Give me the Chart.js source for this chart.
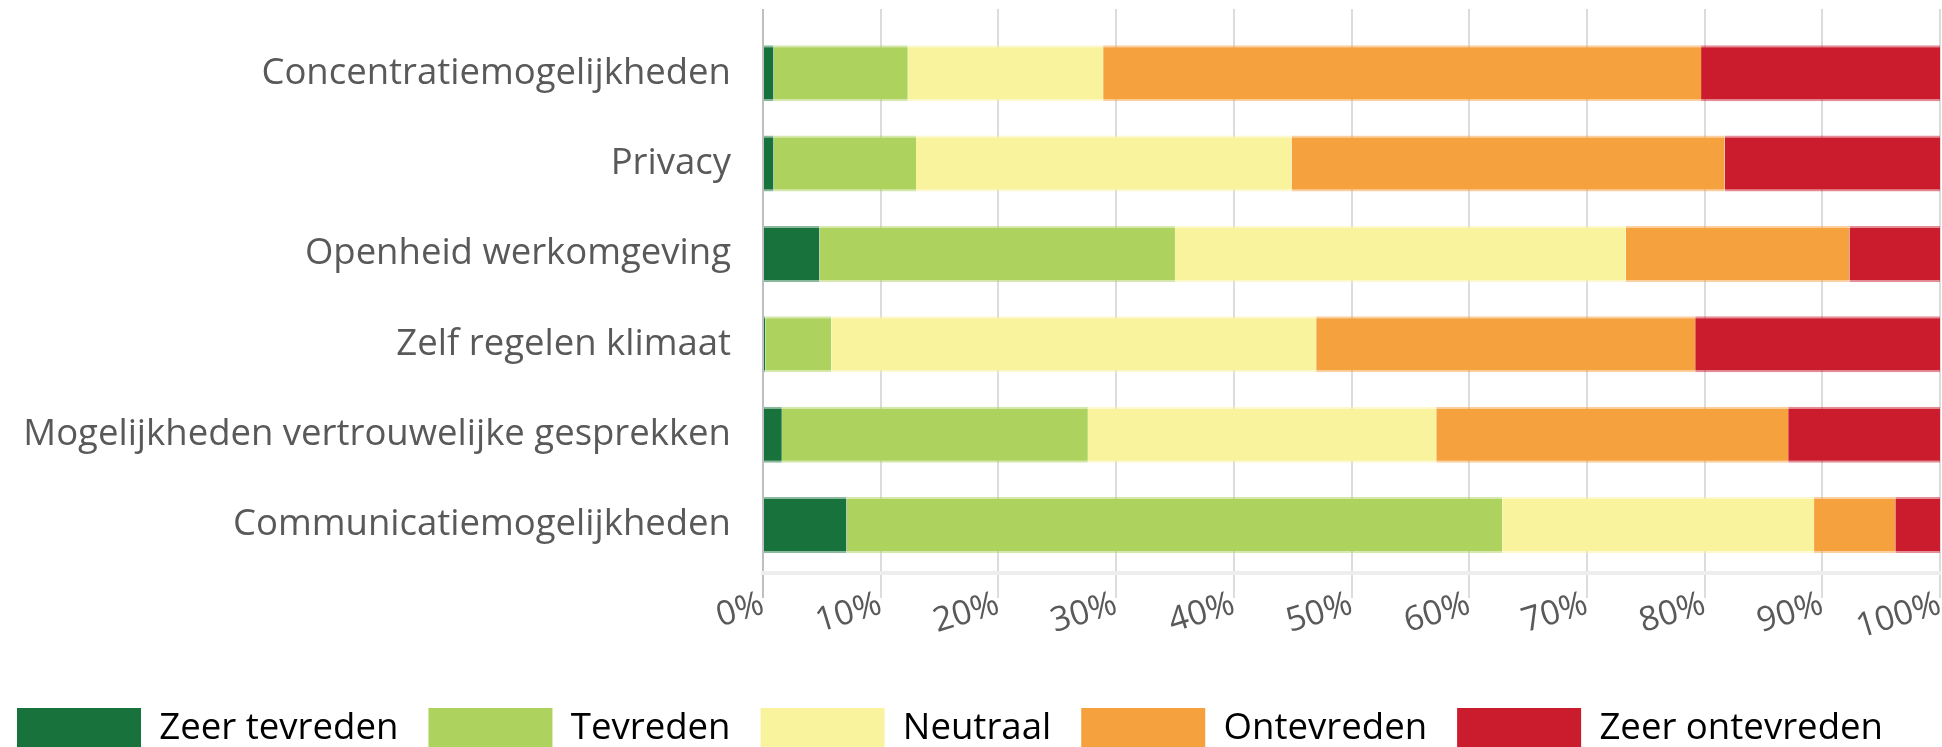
<!DOCTYPE html>
<html>
<head>
<meta charset="utf-8">
<script src="https://cdn.jsdelivr.net/npm/chart.js@4/dist/chart.umd.min.js"></script>
<style>
  html, body { margin: 0; padding: 0; background: #ffffff; overflow: hidden; }
  #wrap { width: 1942px; height: 760px; position: relative; }
</style>
</head>
<body>
<div id="wrap"><canvas id="c" width="1942" height="760"></canvas></div>
<script>
const categories = [
  'Concentratiemogelijkheden',
  'Privacy',
  'Openheid werkomgeving',
  'Zelf regelen klimaat',
  'Mogelijkheden vertrouwelijke gesprekken',
  'Communicatiemogelijkheden'
];
const seriesNames = ['Zeer tevreden', 'Tevreden', 'Neutraal', 'Ontevreden', 'Zeer ontevreden'];
const zeerTevreden   = [0.9, 0.9, 4.8, 0.2, 1.6, 7.1];
const tevreden       = [11.4, 12.1, 30.2, 5.6, 26.0, 55.7];
const neutraal       = [16.6, 31.9, 38.3, 41.2, 29.6, 26.5];
const ontevreden     = [50.8, 36.8, 19.0, 32.2, 29.9, 6.9];
const zeerOntevreden = [20.3, 18.3, 7.7, 20.8, 12.9, 3.8];
const xTickLabels = ['0%', '10%', '20%', '30%', '40%', '50%', '60%', '70%', '80%', '90%', '100%'];

const colors = ['#17733b', '#aed25e', '#faf39e', '#f5a13e', '#cb1c2d'];
const edgeColors = ['rgba(23,115,59,0.5)', 'rgba(174,210,94,0.5)', 'rgba(250,243,158,0.5)', 'rgba(245,161,62,0.5)', 'rgba(203,28,45,0.5)'];
const allSeries = [zeerTevreden, tevreden, neutraal, ontevreden, zeerOntevreden];

const FONT = '"Open Sans", "Noto Sans", sans-serif';
const TEXT = '#595959';

const datasets = allSeries.map((vals, i) => ({
  label: seriesNames[i],
  data: vals,
  backgroundColor: colors[i],
  borderColor: edgeColors[i],
  borderWidth: { top: 2, bottom: 2, left: 0, right: 0 },
  borderSkipped: false,
  barPercentage: 0.62,
  categoryPercentage: 1.0
}));

new Chart(document.getElementById('c'), {
  type: 'bar',
  data: { labels: categories.map((_, i) => i), datasets },
  options: {
    indexAxis: 'y',
    responsive: false,
    animation: false,
    devicePixelRatio: 1,
    layout: { autoPadding: false, padding: { top: 9, right: 2, left: -13, bottom: 0 } },
    plugins: {
      tooltip: { enabled: false },
      legend: {
        position: 'bottom',
        align: 'start',
        labels: {
          boxWidth: 124,
          boxHeight: 42,
          padding: 30,
          color: TEXT,
          font: { family: FONT, size: 36.6 },
          generateLabels: (chart) => chart.data.datasets.map((ds, i) => ({
            text: ds.label,
            fillStyle: colors[i],
            strokeStyle: edgeColors[i],
            lineWidth: 0,
            hidden: false,
            datasetIndex: i
          }))
        }
      }
    },
    scales: {
      x: {
        type: 'linear',
        stacked: true,
        min: 0,
        max: 100,
        ticks: {
          stepSize: 10,
          minRotation: 17,
          maxRotation: 17,
          padding: -14,
          color: TEXT,
          font: { family: FONT, size: 34 },
          callback: (v) => xTickLabels[Math.round(v / 10)]
        },
        grid: {
          color: (ctx) => (ctx.tick && ctx.tick.value === 0) ? '#bfbfbf' : '#dcdcdc',
          lineWidth: 2,
          tickLength: 25,
          drawTicks: true
        },
        border: { display: true, color: '#eeeeee', width: 4 },
        afterFit: (s) => {
          s.height = 105; s.paddingLeft = 0; s.paddingRight = 0; s.paddingTop = 0; s.paddingBottom = 0;
        }
      },
      y: {
        type: 'linear',
        offset: false,
        stacked: true,
        reverse: true,
        min: -0.71,
        max: 5.53,
        afterBuildTicks: (s) => { s.ticks = categories.map((_, i) => ({ value: i })); },
        ticks: {
          padding: 32,
          color: TEXT,
          font: { family: FONT, size: 36.5 },
          callback: (v) => categories[v]
        },
        grid: { display: false, drawTicks: false, offset: false },
        border: { display: false },
        afterFit: (s) => {
          s.width = 776; s.paddingLeft = 0; s.paddingRight = 0; s.paddingTop = 0; s.paddingBottom = 0;
        }
      }
    }
  }
});
</script>
</body>
</html>
